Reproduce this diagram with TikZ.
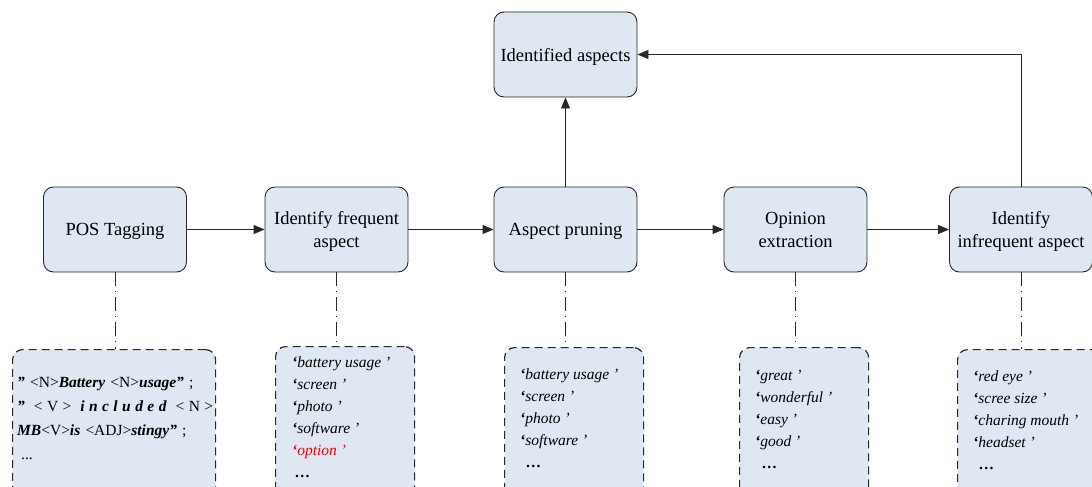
\documentclass[tikz,border=0pt]{standalone}
\usepackage{fontspec}
\setmainfont{Liberation Serif}
\usetikzlibrary{arrows.meta}
\definecolor{boxfill}{RGB}{222,231,242}
\definecolor{boxline}{RGB}{40,40,40}
\newcommand{\oq}{\textbf{‘}}
\newcommand{\bi}[1]{\textbf{\textit{#1}}}
\begin{document}
\begin{tikzpicture}[x=1pt,y=-1pt,
  proc/.style={draw=boxline, fill=boxfill, rounded corners=10pt, line width=0.9pt,
    minimum width=143pt, minimum height=85pt, align=center, inner sep=2pt,
    text depth=0pt, font=\fontsize{18.5}{23}\selectfont},
  note/.style={draw=boxline, fill=boxfill, rounded corners=10pt, line width=1.2pt,
    dash pattern=on 8pt off 5pt, anchor=north west, inner sep=0pt, minimum height=180pt},
  txt/.style={anchor=north west, align=left, inner sep=0pt,
    font=\fontsize{15.5}{22}\selectfont\itshape},
  arr/.style={draw=boxline, line width=0.9pt, -{Triangle[length=11pt,width=9pt]}},
  dd/.style={draw=boxline, line width=0.9pt, dash pattern=on 14pt off 5pt on 1pt off 5pt}
]
\useasboundingbox (0,0) rectangle (1092,487);
\clip (0,0) rectangle (1092,487);

% process boxes
\node[proc] (pos) at (115,229.5) {POS Tagging};
\node[proc] (freq) at (336.5,229.5) {Identify frequent\\aspect};
\node[proc] (prune) at (565.5,229.5) {Aspect pruning};
\node[proc] (opin) at (795.5,229.5) {Opinion\\extraction};
\node[proc] (infreq) at (1021,229.5) {Identify\\infrequent aspect};
\node[proc] (ident) at (565.5,54.5) {Identified aspects};

% arrows
\draw[arr] (pos.east) -- (freq.west);
\draw[arr] (freq.east) -- (prune.west);
\draw[arr] (prune.east) -- (opin.west);
\draw[arr] (opin.east) -- (infreq.west);
\draw[arr] (prune.north) -- (ident.south);
\draw[arr] (infreq.north) |- (ident.east);

% note boxes
\node[note, minimum width=203pt] (n1) at (12,349) {};
\node[note, minimum width=139pt] (n2) at (275,346) {};
\node[note, minimum width=139pt] (n3) at (504,347) {};
\node[note, minimum width=129pt] (n4) at (739,347) {};
\node[note, minimum width=150pt] (n5) at (957,349) {};

% dash-dot links
\draw[dd] (pos.south) -- (pos.south |- n1.north);
\draw[dd] (freq.south) -- (freq.south |- n2.north);
\draw[dd] (prune.south) -- (prune.south |- n3.north);
\draw[dd] (opin.south) -- (opin.south |- n4.north);
\draw[dd] (infreq.south) -- (infreq.south |- n5.north);

% note texts
\node[anchor=north west, align=left, inner sep=0pt, text width=196pt,
  font=\fontsize{15.5}{24}\selectfont] (t1) at (17,377)
  {\bi{”} <N>\bi{Battery} <N>\bi{usage”} ;\\
   \leavevmode\hbox to 196pt{\bi{”}\hfil\hfil<\hfil V\hfil>\hfil\hfil\bi{i\hfil n\hfil c\hfil l\hfil u\hfil d\hfil e\hfil d}\hfil\hfil<\hfil N\hfil>}\\
   \bi{MB}<V>\bi{is} <ADJ>\bi{stingy”} ;\\
   \hspace*{4pt}...};
\node[txt] (t2) at (292,357)
  {\oq battery usage ’\\ \oq screen ’\\ \oq photo ’\\ \oq software ’\\
   {\color{red}\oq option ’}\\ \hspace*{3pt}\textbf{…}};
\node[txt] (t3) at (520,369)
  {\oq battery usage ’\\ \oq screen ’\\ \oq photo ’\\ \oq software ’\\ \hspace*{6pt}\textbf{…}};
\node[txt] (t4) at (755,370)
  {\oq great ’\\ \oq wonderful ’\\ \oq easy ’\\ \oq good ’\\ \hspace*{7pt}\textbf{…}};
\node[txt] (t5) at (973,371)
  {\oq red eye ’\\ \oq scree size ’\\ \oq charing mouth ’\\ \oq headset ’\\ \hspace*{6pt}\textbf{…}};
\end{tikzpicture}
\end{document}
